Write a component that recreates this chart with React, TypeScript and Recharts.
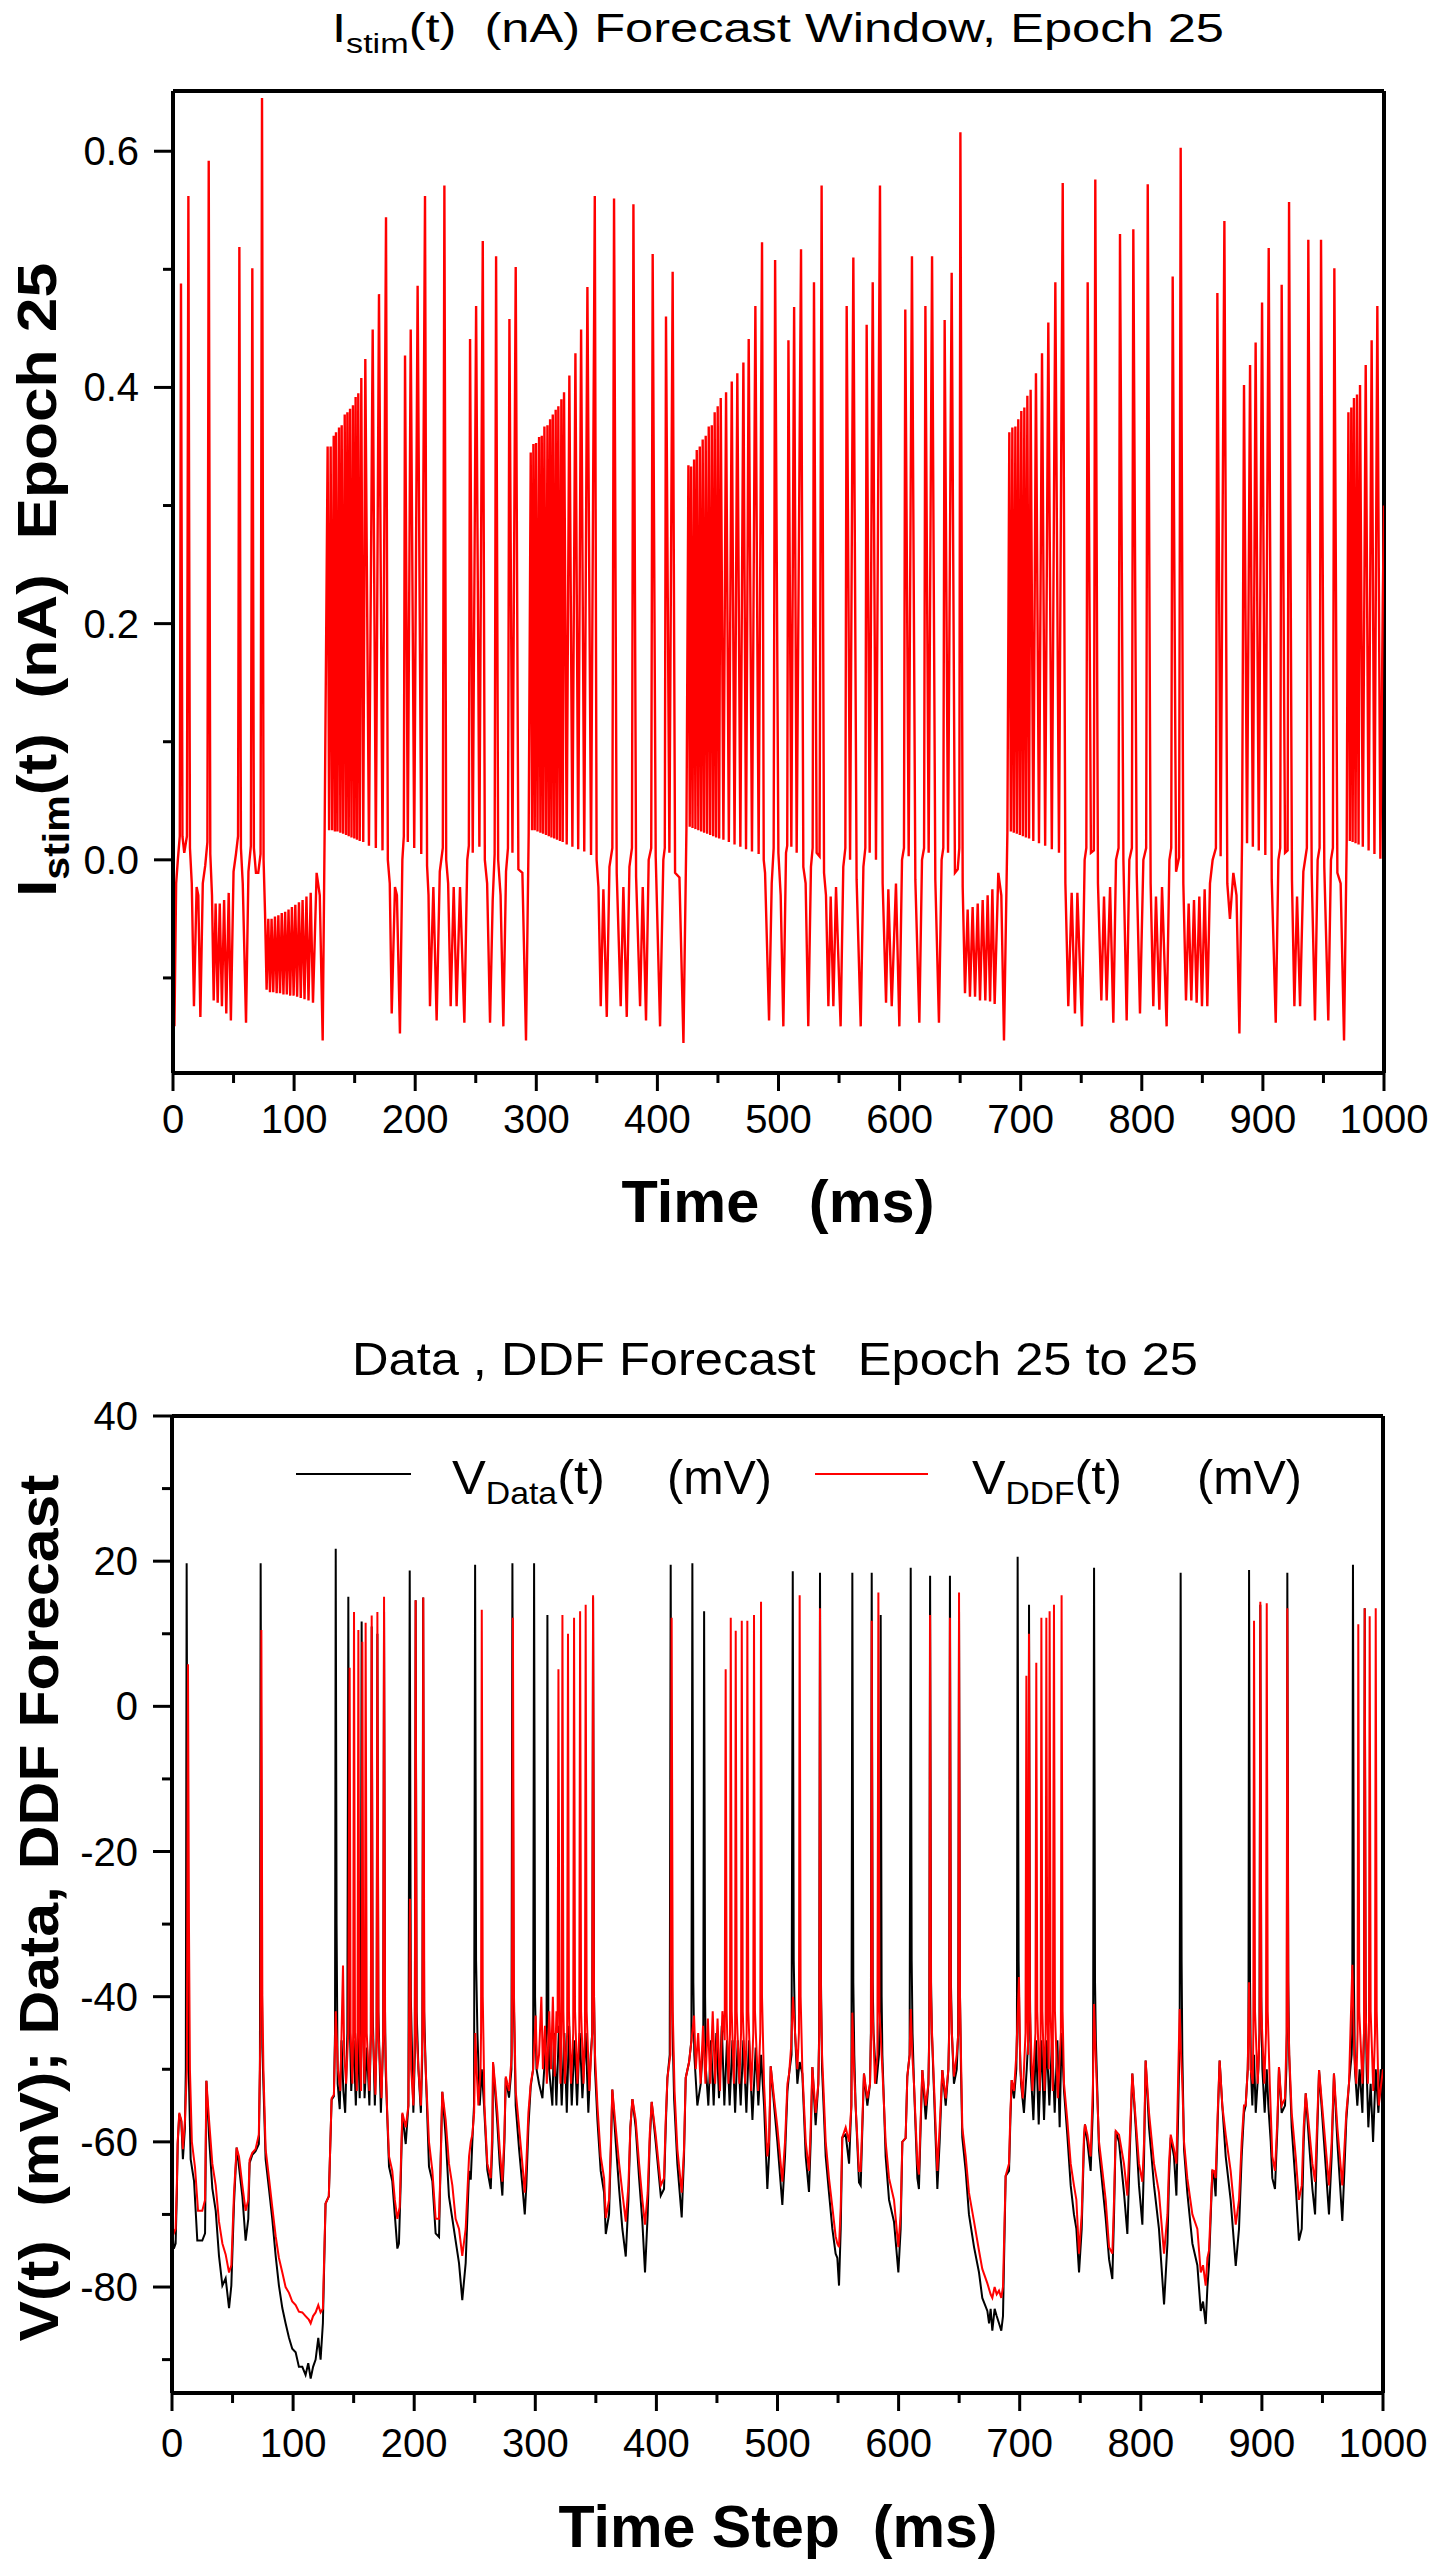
import React from "react";
import { LineChart, Line, XAxis, YAxis, ReferenceLine } from "recharts";

// I_stim(t) trace, [time ms, current nA]
const istimPoints: [number, number][] = [
  [0, -0.02], [1.2, -0.141], [2.6, -0.02], [4, 0.0], [5.6, 0.02], [6.6, 0.488], [7.8, 0.02], [9.3, 0.006], [11.5, 0.02], [12.7, 0.562],
  [14, 0.01], [15.5, -0.02], [17.3, -0.124], [19.5, -0.023], [20.9, -0.03], [22.6, -0.133], [24.6, -0.02], [26.6, -0.005], [28.4, 0.015], [29.5, 0.592],
  [30.8, 0.005], [32.2, -0.03], [33.6, -0.119], [35.2, -0.037], [36.9, -0.121], [38.6, -0.037], [40.4, -0.124], [42.2, -0.034], [44, -0.13], [46, -0.028],
  [47.8, -0.136], [50, -0.01], [52, 0.005], [53.7, 0.02], [54.8, 0.519], [56.1, 0.01], [57.6, -0.02], [60.3, -0.138], [62.3, -0.01], [64.3, 0.012],
  [65.5, 0.501], [66.8, 0.01], [68.5, -0.011], [70.4, -0.011], [72.3, 0.005], [73.5, 0.645], [74.8, 0.0], [76, -0.045], [77.3, -0.11], [78.7, -0.05],
  [80.1, -0.112], [81.4, -0.05], [82.8, -0.112], [84.2, -0.048], [85.6, -0.113], [87, -0.047], [88.4, -0.113], [89.8, -0.045], [91.2, -0.114], [92.6, -0.044],
  [94, -0.114], [95.4, -0.042], [96.8, -0.115], [98.2, -0.04], [99.6, -0.115], [101, -0.038], [102.5, -0.116], [104, -0.036], [105.5, -0.117], [107, -0.034],
  [108.6, -0.118], [110.2, -0.031], [111.9, -0.119], [113.7, -0.028], [115.6, -0.121], [118.6, -0.011], [121.2, -0.03], [123.6, -0.153], [125.2, 0.022],
  [127.7, 0.35], [128.9, 0.025], [130.2, 0.35], [131.4, 0.025], [132.7, 0.359], [133.7, 0.024], [134.6, 0.362], [135.8, 0.024], [137.1, 0.366], [138.2, 0.023],
  [139.3, 0.368], [140.5, 0.022], [141.8, 0.377], [142.9, 0.021], [144, 0.379], [145.1, 0.02], [146.2, 0.382], [147.4, 0.019], [148.6, 0.385], [149.7, 0.018],
  [150.8, 0.392], [151.9, 0.017], [153, 0.395], [154.2, 0.016], [155.5, 0.408], [157.1, 0.015], [158.8, 0.424], [161.8, 0.012], [164.9, 0.449], [167.5, 0.01],
  [170.1, 0.479], [173, 0.008], [175.9, 0.544], [177.4, 0.0], [179, -0.02], [180.6, -0.13], [183.3, -0.023], [184.9, -0.03], [187.4, -0.147], [189.4, 0.0],
  [190.6, 0.02], [191.6, 0.427], [193.9, 0.015], [196.3, 0.449], [199.2, 0.01], [202, 0.486], [205, 0.005], [208.1, 0.562], [209.8, -0.005], [211, -0.03],
  [212.2, -0.124], [215, -0.023], [217.7, -0.136], [220.3, -0.01], [222.8, 0.01], [224.1, 0.571], [225.6, 0.0], [227.2, -0.02], [229.3, -0.124], [231.8, -0.023],
  [234.2, -0.124], [237, -0.023], [240.6, -0.138], [243, 0.0], [244.3, 0.012], [245.3, 0.441], [247.5, 0.006], [250.3, 0.469], [253, 0.011], [255.8, 0.524],
  [257.5, 0.0], [259.4, -0.02], [261.8, -0.138], [264, -0.034], [265.6, 0.005], [266.8, 0.511], [268.5, 0.0], [270.5, -0.03], [272.8, -0.141], [275, -0.01],
  [276.6, 0.01], [277.8, 0.458], [280.3, 0.006], [283, 0.502], [285.2, -0.008], [288.5, -0.011], [291.5, -0.153], [293.7, 0.022],
  [295.4, 0.345], [296.5, 0.025], [297.6, 0.352], [298.7, 0.025], [299.8, 0.353], [301, 0.024], [302.3, 0.358], [303.4, 0.023], [304.5, 0.359], [305.6, 0.022],
  [306.7, 0.367], [308, 0.021], [309.2, 0.368], [310.3, 0.02], [311.4, 0.373], [312.5, 0.019], [313.6, 0.377], [314.8, 0.018], [316, 0.381], [317.1, 0.017],
  [318.2, 0.384], [319.5, 0.016], [320.7, 0.39], [321.8, 0.015], [322.9, 0.396], [325.1, 0.013], [327.3, 0.41], [329.8, 0.011], [332.3, 0.429], [334.6, 0.009],
  [337, 0.449], [339.6, 0.007], [342.2, 0.485], [345.2, 0.004], [348.3, 0.562], [349.8, 0.0], [351.3, -0.023], [353.2, -0.124], [355.4, -0.025], [358.2, -0.133],
  [360.4, -0.006], [362.8, 0.01], [364.2, 0.56], [366.4, -0.011], [369.7, -0.124], [371.9, -0.023], [374.7, -0.133], [376.9, -0.006], [379, 0.01], [380.2, 0.555],
  [382.4, -0.014], [385.7, -0.124], [387.9, -0.023], [390.6, -0.136], [392.8, 0.0], [394.9, 0.01], [396.1, 0.513], [398.6, 0.003], [402.2, -0.141], [404.9, 0.0],
  [406.1, 0.01], [407.1, 0.46], [409.9, 0.006], [412.6, 0.498], [414.6, -0.011], [418.2, -0.015], [421.5, -0.155], [424, 0.028],
  [425.6, 0.334], [426.7, 0.028], [427.8, 0.333], [429, 0.027], [430.3, 0.339], [431.4, 0.026], [432.5, 0.347], [433.8, 0.025], [435, 0.35], [436.2, 0.024],
  [437.4, 0.356], [438.6, 0.023], [439.9, 0.359], [441.1, 0.022], [442.4, 0.367], [443.6, 0.021], [444.9, 0.368], [446.1, 0.02], [447.3, 0.379], [448.5, 0.019],
  [449.8, 0.384], [451, 0.018], [452.3, 0.391], [454.5, 0.017], [456.7, 0.396], [459, 0.015], [461.4, 0.405], [463.7, 0.013], [466, 0.412], [468.5, 0.011],
  [471, 0.421], [473.2, 0.009], [475.4, 0.441], [478.1, 0.007], [480.9, 0.469], [483.6, 0.005], [486.4, 0.523], [487.8, 0.0], [488.9, -0.011], [492.2, -0.136],
  [494.4, -0.02], [496, 0.01], [497.2, 0.508], [499.9, 0.006], [501.8, -0.03], [504, -0.141], [506.2, 0.006], [507.2, 0.012], [508.2, 0.44], [510.6, 0.011],
  [512.9, 0.468], [515, 0.006], [518.6, 0.517], [520.5, -0.006], [522.4, -0.02], [524.6, -0.141], [526.8, -0.006], [528.2, 0.01], [529.3, 0.489], [531.5, 0.006],
  [533.9, 0.003], [535.6, 0.571], [537.6, -0.011], [539.2, -0.03], [541.2, -0.124], [543.1, -0.031], [545.3, -0.124], [547.5, -0.023], [551.3, -0.141], [553.5, -0.006],
  [555.2, 0.01], [556.3, 0.469], [559.1, 0.0], [561.8, 0.51], [564.5, -0.017], [567.9, -0.141], [570.1, -0.006], [571.7, 0.01], [572.8, 0.453], [575.3, 0.006],
  [577.8, 0.489], [580.5, 0.0], [583.8, 0.571], [586, -0.02], [588.8, -0.121], [590.7, -0.025], [593.5, -0.124], [597, -0.02], [599.8, -0.141], [602, 0.0],
  [603.6, 0.01], [604.7, 0.466], [607.5, 0.003], [610.2, 0.511], [613, -0.017], [616.3, -0.138], [618.5, 0.0], [620.2, 0.01], [621.3, 0.469], [624, 0.006],
  [626.8, 0.511], [629.5, -0.017], [632.5, -0.138], [634.7, 0.0], [636.1, 0.01], [637.2, 0.457], [640, 0.006], [643, 0.497], [645.7, -0.011], [648, -0.008],
  [649.3, 0.01], [650.2, 0.616], [652.1, -0.023], [654, -0.113], [656.2, -0.042], [658.1, -0.116], [660.3, -0.04], [662.3, -0.116], [664.5, -0.037], [666.4, -0.119],
  [668.6, -0.034], [670.8, -0.119], [672.7, -0.03], [674.7, -0.12], [676.6, -0.025], [678.5, -0.122], [681.5, -0.011], [684, -0.03], [686.2, -0.153], [689, 0.023],
  [690.6, 0.362], [691.9, 0.024], [693.1, 0.366], [694.3, 0.023], [695.6, 0.367], [696.8, 0.022], [698, 0.373], [699.3, 0.021], [700.5, 0.38], [701.8, 0.02],
  [703, 0.383], [704.3, 0.019], [705.5, 0.393], [706.9, 0.018], [708.2, 0.398], [710.4, 0.016], [712.6, 0.412], [715.1, 0.014], [717.6, 0.429], [720.2, 0.012],
  [722.8, 0.455], [725.7, 0.009], [728.6, 0.489], [731.6, 0.006], [734.7, 0.573], [736.9, -0.02], [739.3, -0.124], [742.1, -0.028], [744.8, -0.13], [746.8, -0.028],
  [750.6, -0.141], [752.8, 0.0], [754.2, 0.01], [755.3, 0.489], [758, 0.006], [760.4, 0.008], [761.6, 0.576], [763.8, -0.02], [766.6, -0.119], [768.8, -0.031],
  [771, -0.119], [773.8, -0.023], [776.5, -0.138], [778.7, 0.0], [780.8, 0.01], [782, 0.53], [784.8, 0.0], [787.5, -0.136], [789.7, 0.0], [791.8, 0.01],
  [793, 0.534], [795.8, -0.011], [798.5, -0.13], [801.3, 0.0], [803.6, 0.01], [804.9, 0.572], [807.3, -0.02], [809.5, -0.124], [811.7, -0.031], [814.5, -0.127],
  [816.7, -0.023], [820.5, -0.141], [822.8, 0.0], [824.3, 0.01], [825.5, 0.494], [828.3, -0.01], [830.8, 0.002], [832.1, 0.603], [834.3, -0.02], [836.5, -0.119],
  [838.7, -0.037], [840.9, -0.119], [843.1, -0.034], [845.3, -0.121], [847.5, -0.031], [849.7, -0.124], [851.9, -0.025], [854.1, -0.124], [856.3, -0.02], [858.5, 0.0],
  [861.2, 0.01], [862.4, 0.48], [865.1, 0.003], [868.2, 0.541], [870.6, -0.02], [872.8, -0.05], [875.6, -0.011], [878.2, -0.03], [880.6, -0.147], [882.8, 0.017],
  [884.4, 0.402], [886.9, 0.014], [889.4, 0.419], [891.7, 0.011], [894, 0.438], [896.6, 0.008], [899.3, 0.472], [902, 0.004], [904.8, 0.518], [907.3, -0.017],
  [910.6, -0.138], [912.8, 0.0], [914.3, 0.01], [915.5, 0.487], [918.3, 0.006], [920.4, 0.008], [921.6, 0.557], [924, -0.017], [926, -0.124], [928.2, -0.031],
  [930.7, -0.124], [933.4, -0.01], [936.3, 0.01], [937.5, 0.525], [940.3, -0.011], [943, -0.136], [945.2, 0.0], [946.8, 0.01], [948, 0.525], [950.7, -0.006],
  [954, -0.136], [956.2, 0.0], [957.8, 0.01], [959, 0.501], [961.5, -0.011], [964.2, -0.02], [967, -0.153], [969.2, 0.017],
  [970.6, 0.379], [971.8, 0.016], [973, 0.383], [974.1, 0.015], [975.2, 0.391], [976.5, 0.014], [977.7, 0.394], [979, 0.013], [980.2, 0.402], [982.5, 0.011],
  [984.9, 0.419], [987.3, 0.008], [989.8, 0.44], [992.1, 0.005], [994.5, 0.469], [997, 0.001], [999, 0.22], [1000, 0.3],
];

// V_Data(t), [time ms, mV], black trace of the lower panel
const vDataPoints: [number, number][] = [
  [0, -72], [1.5, -74.7], [3, -74], [4, -67], [4.7, -60.3], [6, -56.2], [7.7, -57.2], [9, -62.4], [10.7, -58], [11.4, -50],
  [12.1, 19.7], [12.9, -30], [13.8, -50], [15.4, -62.4], [18.2, -65.4], [20.9, -73.6], [25, -73.6], [27.3, -72.6], [28.4, -51.6], [30.6, -59.3],
  [33.3, -66.4], [36.1, -69.5], [38.8, -75.7], [41.6, -79.8], [44.3, -78.8], [47.1, -82.9], [49, -79.8], [51.2, -68.5], [53.4, -60.8], [55.3, -63.4],
  [58.1, -67.5], [60.8, -73.6], [63, -70.6], [64.1, -62.9], [66.3, -61.8], [69, -61.3], [71.7, -60.3], [72.6, -50], [73.2, 19.7], [74, -30],
  [74.6, -47], [77.3, -62.4], [80.1, -66.5], [82.8, -70.6], [85.6, -75.7], [88.3, -79.8], [91.1, -82.9], [93.8, -85], [96.6, -87], [99.3, -88.5],
  [102.1, -89], [104.8, -91], [107.6, -91], [110.3, -92.1], [112.5, -90.5], [114.5, -92.6], [116.5, -91], [118.6, -90], [120.8, -87], [122.7, -90],
  [124.6, -85], [126.8, -68.5], [129.5, -67.5], [131.8, -54.2], [133.7, -53.7], [134.6, -45], [135.2, 21.7], [135.9, -30], [136.8, -52], [138.5, -55.5],
  [140, -46], [141.5, -53], [143, -56], [144.8, -45], [145.6, 15.1], [146.4, -40], [148, -53], [150, -46], [151.8, -55], [153.5, -45],
  [155, -54], [155.9, -45], [156.6, 11.7], [157.4, -40], [159, -54], [161, -47], [163, -55], [164.2, -45], [164.9, 11], [165.7, -42],
  [167.5, -55], [169, -46], [169.6, 10], [170.4, -42], [172.5, -56], [174.4, -46], [175.1, 13], [175.9, -42], [176.4, -50], [179.2, -63.4],
  [181.9, -65.4], [186.1, -74.7], [187.4, -74], [188.8, -66], [190.2, -56.2], [193, -60.3], [195.2, -55], [196.3, 18.7], [197.2, -40], [198.5, -50],
  [199.3, -56], [200.5, -48], [201.2, 14.6], [202, -42], [203.5, -50], [205.5, -56], [206.7, -48], [207.4, 15], [208.2, -42], [209.5, -50],
  [212.2, -63.4], [215, -65.4], [217.7, -72.6], [220.5, -73.1], [221.9, -62], [223.2, -53.1], [226, -59.3], [228.7, -67.5], [231.5, -70.6], [234.2, -73.6],
  [237, -76.7], [239.7, -81.8], [242.5, -76.7], [245.3, -64], [246.7, -65.2], [248, -60], [249.4, -55], [250.3, 19.5], [251.1, -35], [252.2, -45],
  [254.1, -55], [255.8, -50], [257.7, -55], [260.4, -63.9], [263.2, -66.5], [264.6, -60], [265.1, -49.2], [266.8, -53], [268.7, -57.6], [270.6, -63],
  [272.8, -67.4], [274.5, -60], [275.6, -51.2], [278.3, -53.9], [280.3, -50], [281.1, 19.7], [282, -38], [283.8, -55], [286.6, -61], [289.3, -66],
  [291.3, -70], [292.6, -66], [294.3, -58], [296.2, -52.4], [298.2, -50], [299, 19.7], [299.8, -40], [301, -50], [303.1, -52], [305.9, -54],
  [308.1, -48], [309.3, -45], [310, 12.6], [310.8, -42], [311.4, -50], [314.1, -55], [315.5, -45], [317.4, -55], [319.6, -44], [321.8, -55],
  [324, -45], [326, -56], [327.9, -44], [330.1, -55], [332.3, -46], [334.5, -55], [336.7, -45], [338.9, -54], [341.6, -45], [343.8, -56],
  [345.8, -48], [347, -45], [347.7, 15], [348.5, -40], [349.3, -50], [351.3, -57], [354, -64], [356.8, -67], [358.2, -72.7], [360.9, -70],
  [362.6, -60], [363.6, -52.8], [366.4, -60], [369.2, -66.5], [371.9, -72], [374.7, -75.8], [376.9, -68], [378.5, -58], [380.2, -54.1], [382.9, -58],
  [385.7, -65], [388.4, -71], [390.6, -78], [392.8, -70], [394.5, -60], [396.1, -54.5], [399.4, -60], [403.6, -67.4], [406.3, -66.5], [407.7, -58],
  [409.1, -51.2], [411, -48], [411.8, 19.5], [412.6, -35], [413.4, -45], [414.6, -54], [417.3, -63], [420.9, -70.4], [422.8, -62], [424.2, -51.2],
  [427, -49], [428.9, -46], [429.7, 19.7], [430.5, -38], [431.3, -48], [433.8, -55], [436.6, -52], [438.7, -46], [439.4, 13.1], [440.2, -40],
  [440.9, -50], [442.9, -55], [445.1, -46], [447.3, -55], [449.5, -45], [451.7, -54], [454, -44], [456.1, -55], [458.3, -46], [460.5, -55],
  [462.8, -46], [465, -56], [467.2, -46], [469.6, -55], [471.8, -46], [474.3, -56], [476.5, -46], [479.3, -57], [482, -47], [484.2, -55],
  [486.4, -48], [488.9, -55], [491.6, -66.5], [493, -62], [494.4, -49.6], [497.2, -55], [499.9, -60], [504, -68.7], [506.2, -62], [508.2, -53],
  [509.6, -50.6], [511.6, -48], [512.6, 18.6], [513.4, -35], [514.5, -45], [516.4, -52], [518.3, -49], [520.5, -50.6], [523.3, -62], [526, -66.9],
  [527.4, -60], [528.8, -49.7], [531.5, -57.7], [533.7, -52], [534.4, -45], [535.1, 18.4], [535.9, -38], [536.8, -50], [539.8, -62], [542.5, -67],
  [545.3, -72], [548, -75.4], [549.4, -76], [550.8, -79.8], [552.2, -72], [553.5, -59.4], [556.3, -59], [559.1, -63], [561, -55], [561.8, 18.4],
  [562.6, -38], [563.4, -48], [564.5, -55], [567.3, -65.6], [568.7, -66], [570.1, -58], [571.4, -50.6], [574.2, -55], [576.4, -52], [577.1, -45],
  [577.8, 18.4], [578.6, -38], [579.3, -45], [581.6, -52], [583.8, -48], [584.5, -42], [585.2, 12.6], [586, -40], [586.6, -48], [589.3, -62],
  [592.1, -68], [596.2, -71], [599.8, -78], [601.7, -72], [603.1, -60], [605.8, -59.5], [607.2, -51], [609.1, -48], [610, 19.1], [610.8, -35],
  [611.5, -45], [612.7, -52], [615.5, -65], [616.8, -66.5], [618.2, -58], [619.6, -50.1], [622.4, -56.9], [624.6, -52], [625.3, -45], [626, 18],
  [626.8, -38], [627.5, -45], [629.2, -53], [632, -66.5], [633.9, -60], [636.1, -50.1], [638.9, -55], [641.1, -50], [641.7, -45], [642.4, 18],
  [643.2, -38], [644, -45], [645.7, -52], [648, -50], [649.2, -45], [649.9, 13], [650.7, -40], [651.5, -50], [652.6, -59.4], [655.4, -64],
  [658.1, -70], [662.3, -74.5], [666.4, -78], [669.1, -81.5], [673.3, -83.3], [674.7, -85], [676, -83], [677.4, -86], [679.3, -83], [681, -84],
  [682.9, -85], [684.8, -86], [686.2, -84], [688.4, -64.7], [691.2, -64], [692.3, -57], [693.4, -51.5], [695.3, -54], [697.2, -50], [697.7, -45],
  [698.3, 20.6], [699.1, -35], [699.8, -45], [701.1, -52], [703.5, -56], [705.8, -50], [707, -46], [707.7, 14], [708.5, -40], [709.1, -50],
  [711.3, -57], [713.5, -46], [715.7, -57.6], [717.9, -46], [720.1, -57], [722.3, -46], [724.5, -55], [726.7, -46], [728.9, -56], [731.1, -46],
  [733, -58], [734.6, -45], [736.6, -53], [739.3, -59], [742.1, -66], [744.8, -70], [746.8, -72], [749, -78], [751.2, -72], [753.1, -60],
  [753.9, -57.6], [755.9, -60], [758.6, -64], [760.5, -55], [761.4, 19.1], [762.2, -38], [762.9, -46], [765.5, -61.2], [768.3, -66], [771, -70.5],
  [773.8, -76.2], [776.5, -78.9], [777.9, -70], [779.3, -58.5], [782, -60], [786.1, -67], [788.9, -72.7], [790.8, -62], [793, -50.6], [795.8, -58],
  [798.5, -66], [801.3, -71.4], [802.7, -62], [804, -48.8], [806.8, -58], [810.9, -66], [815, -72], [819.2, -82.4], [822, -74], [823.3, -65],
  [824.7, -59.4], [827.4, -62], [829.4, -67.4], [831, -55], [832.1, -45], [832.9, 18.4], [833.7, -35], [834.3, -48], [835.7, -61], [838.4, -67],
  [842.6, -74], [846.7, -77], [849.5, -83.3], [851.4, -82], [853.6, -85.1], [855, -80], [856.3, -77], [859.1, -63.9], [860.5, -65], [861.8, -67.5],
  [863.5, -57], [865.1, -48.8], [867.3, -55], [870.1, -62], [874.2, -68], [878.4, -77.1], [881.1, -72], [883.3, -62], [885.2, -56], [886.6, -55],
  [888.3, -50], [888.9, -45], [889.4, 18.8], [890.2, -38], [890.9, -50], [892.1, -55], [893.5, -48], [894.9, -56], [897.1, -50], [898, -45],
  [898.7, 14], [899.5, -40], [900.4, -50], [902.3, -56], [904, -50], [905.3, -55], [907.3, -60], [908.6, -65], [910.8, -66.5], [912.8, -58],
  [914.1, -49.7], [916.3, -56], [919.1, -55], [920.2, -50], [920.6, -45], [921, 18.4], [921.8, -38], [922.5, -48], [924.6, -58], [927.9, -66],
  [930.6, -73.6], [932.9, -72], [934.5, -60], [936.2, -53.3], [938.9, -60], [941.7, -66.5], [943.9, -70], [945.5, -60], [947.2, -50.1], [951.3, -60],
  [955.4, -70], [957.6, -62], [959.5, -50.6], [962.3, -60], [966.4, -70.9], [968.1, -64], [969.7, -57], [971.9, -52], [974.1, -48], [974.6, -45],
  [975.2, 19.5], [976, -38], [976.8, -50], [978.8, -55], [980.7, -50], [983, -56], [984.3, -45], [984.9, 13.5], [985.7, -40], [986.5, -50],
  [987.9, -58], [989.8, -52], [991.8, -60], [994, -50], [996.2, -56], [998.1, -50], [1000, -52],
];

// V_DDF(t), [time ms, mV], red forecast trace of the lower panel
const vDdfPoints: [number, number][] = [
  [0, -71], [1.5, -72.6], [3, -72], [4, -66], [4.7, -60], [6, -56], [7.7, -57], [9, -61], [10.7, -57], [12.3, -50],
  [13.2, 5.8], [14, -30], [14.8, -50], [16.4, -60], [19, -63.5], [21.5, -69.5], [25, -69.5], [27.3, -68], [28.4, -51.6], [30.6, -57],
  [33.3, -63], [36.1, -66], [38.8, -71], [41.6, -74], [44.3, -75.5], [47.1, -78], [49, -77], [51.2, -67], [53.4, -60.8], [55.3, -62],
  [58.1, -66], [60.8, -69.5], [63, -68], [64.1, -62.5], [66.3, -61.5], [69, -61], [71.7, -59], [73, -45], [73.8, 10.5], [74.6, -40],
  [75.5, -50], [77.3, -61], [80.1, -65], [82.8, -69], [85.6, -73], [88.3, -76], [91.1, -78], [93.8, -80], [96.6, -80.8], [99.3, -82],
  [102.1, -82.5], [104.8, -83.4], [107.6, -83.5], [110.3, -84], [113, -84.5], [114.5, -85], [116.5, -84], [118.6, -83.5], [120.8, -82.5], [122.7, -83.5],
  [124.6, -83], [126.8, -68.5], [129.5, -67.5], [131.8, -54], [133.7, -53.5], [135.2, -42], [137, -50], [139, -53], [141.2, -35.7], [142.2, -48],
  [143.8, -52], [145.5, -45], [146.7, 5.3], [147.5, -45], [149, -52], [149.6, -45], [150.3, 13], [151.1, -45], [152.6, -53], [153.2, -45],
  [153.9, 10.5], [154.7, -45], [156.1, -53], [156.5, -45], [157.2, 8.9], [158, -45], [159, -52], [159.3, -45], [159.9, 11.5], [160.8, -45],
  [163, -53], [164.2, -45], [164.9, 12.5], [165.8, -45], [168, -53.5], [168.9, -45], [169.6, 13], [170.5, -45], [173, -54], [174.4, -45],
  [175.1, 15.1], [176, -45], [177.5, -55], [179.2, -62], [181.9, -64], [184, -68], [186.1, -70.6], [188, -69], [190.2, -56], [193, -58],
  [195.2, -55], [196.5, -26.5], [197.5, -50], [199.3, -55], [200.5, -45], [201.2, 14.6], [202, -45], [203.5, -50], [205.5, -55], [206.8, -45],
  [207.5, 15], [208.4, -45], [210, -52], [212.2, -60], [215, -64], [217.7, -70.6], [220.5, -70.6], [222, -62], [223.2, -53.1], [226, -57],
  [228.7, -63], [231.5, -66], [234.2, -70.6], [237, -72], [239.7, -75.7], [242.5, -72], [245.3, -62], [246.7, -60], [248, -59], [249.5, -56],
  [250.5, -45], [251.5, -50], [253, -55], [254.8, -50], [255.2, -45], [255.8, 13.3], [256.6, -40], [257.4, -48], [258, -55], [260.4, -63],
  [263.2, -65], [264.6, -58], [265.1, -49], [266.8, -52], [268.7, -56], [270.6, -61], [272.8, -65.5], [274.5, -59], [275.6, -51], [278.3, -53],
  [280.6, -48], [281.5, 12.2], [282.4, -40], [283.8, -53], [286.6, -58], [289.3, -63], [291.3, -67], [292.6, -63], [294.3, -56], [296.2, -52],
  [298.2, -50], [300.3, -42.6], [301.5, -50], [303.1, -48], [305, -40], [306.3, -50], [308, -44], [309.5, -52], [311.5, -42], [313, -50],
  [314.5, -40], [316, -51], [317.5, -42], [318.4, -45], [319.1, 5.1], [319.9, -40], [320.8, -52], [321.7, -45], [322.4, 12.6], [323.2, -42],
  [324.5, -52], [326.3, -45], [327, 10], [327.8, -42], [329.5, -52], [331.3, -45], [332, 12.2], [332.8, -42], [334.8, -52], [336.3, -45],
  [337, 13.1], [337.8, -42], [339.8, -52], [341, -45], [341.6, 14], [342.4, -42], [344.6, -53], [347, -45], [347.7, 15.3], [348.5, -40],
  [349.3, -48], [351.3, -55], [354, -62], [356.8, -65], [358.2, -70.5], [360.9, -68], [362.6, -59], [363.6, -52.8], [366.4, -58], [369.2, -63],
  [371.9, -67], [374.7, -71], [376.9, -66], [378.5, -58], [380.2, -54.1], [382.9, -57], [385.7, -63], [388.4, -68], [390.6, -71.4], [392.8, -67],
  [394.5, -59], [396.1, -54.5], [399.4, -59], [403.6, -66], [406.3, -65], [407.7, -57], [409.1, -51.2], [411.5, -48], [412.6, 12.2], [413.5, -42],
  [415, -53], [417.3, -61], [420.9, -67], [422.8, -61], [424.2, -51.2], [427, -49], [429, -46], [431.1, -42.6], [432.5, -50], [434.5, -45],
  [436.5, -52], [438.5, -44], [440.5, -52], [442.5, -43], [444.5, -52], [446.5, -42], [448.5, -52], [450.5, -43], [452.5, -53], [454.5, -42],
  [456.4, -46], [457.2, 5.1], [458, -42], [459.5, -52], [460.8, -45], [461.4, 12.2], [462.2, -42], [464, -52], [465, -45], [465.5, 10.4],
  [466.3, -42], [468.5, -52], [469.9, -45], [470.5, 11.8], [471.3, -42], [473.3, -52], [474.5, -45], [475.1, 11.8], [475.9, -42], [478.3, -53],
  [480, -45], [480.6, 12.6], [481.4, -42], [484, -53], [485.8, -45], [486.4, 14.4], [487.2, -40], [488.9, -52], [491.6, -62], [493, -60],
  [494.4, -49.6], [497.2, -54], [499.9, -58], [504, -65.5], [506.2, -60], [508.2, -52], [509.6, -50.6], [511.2, -47], [512.8, -40], [514.5, -45],
  [516.4, -50], [517.7, -45], [518.3, 15.3], [519.1, -40], [520.5, -50], [523.3, -60], [526, -64], [527.4, -58], [528.8, -49.7], [531.5, -56],
  [533.7, -52], [534.5, -45], [535.1, 13.5], [535.9, -40], [536.8, -48], [539.8, -60], [542.5, -65], [545.3, -69], [548, -73], [549.4, -74],
  [550.8, -74.5], [552.2, -69], [553.5, -59.4], [556.3, -58], [559.1, -60], [561, -55], [561.8, -42.2], [563.2, -50], [564.5, -55], [567.3, -64],
  [568.7, -64], [570.1, -57], [571.4, -50.6], [574.2, -54], [576.4, -52], [577.2, -45], [577.8, 11.8], [578.6, -42], [580.5, -52], [582.5, -48],
  [583.3, 15.7], [584.2, -42], [586.6, -50], [589.3, -60], [592.1, -65], [596.2, -68], [599.8, -74.5], [601.7, -70], [603.1, -60], [605.8, -59.5],
  [607.2, -51], [609.1, -48], [610, -41.7], [611.3, -48], [612.7, -52], [615.5, -63], [616.8, -64.5], [618.2, -57], [619.6, -50.1], [622.4, -55],
  [624.6, -52], [625.4, -45], [626, 12.6], [626.8, -40], [627.6, -45], [629.2, -52], [632, -64], [633.9, -58], [636.1, -50.1], [638.9, -54],
  [641.1, -50], [641.8, -45], [642.4, 12.2], [643.2, -40], [644, -45], [645.7, -51], [648, -48], [649.3, -45], [649.9, 15.7], [650.7, -40],
  [651.5, -48], [652.6, -58], [655.4, -62], [658.1, -67], [662.3, -71], [666.4, -75], [669.1, -77.5], [673.3, -79.5], [676, -81], [677.4, -81.5],
  [679.3, -80], [681, -81], [682.9, -80.5], [684.8, -81.5], [686.2, -80], [688.4, -64.7], [691.2, -63], [692.3, -56], [693.4, -51.5], [695.3, -53],
  [697.2, -48], [699.4, -37.3], [700.5, -50], [702.5, -54], [704.8, -45], [705.5, 4.2], [706.3, -42], [707, -48], [707.7, 10], [708.5, -42],
  [710.5, -53], [713, -45], [713.7, 6], [714.5, -42], [716.5, -53], [717.3, -45], [717.9, 12.2], [718.7, -42], [720.5, -53], [721.4, -45],
  [722, 12.2], [722.8, -42], [724, -50], [724.7, 13.1], [725.5, -42], [727.3, -53], [728.3, 14], [729.1, -42], [731.5, -54], [734, -45],
  [734.6, 15.3], [735.4, -42], [736.6, -52], [739.3, -57], [742.1, -63], [744.8, -66], [746.8, -68], [749, -75.4], [751.2, -70], [753.1, -59],
  [753.9, -57.6], [755.9, -59], [758.6, -62], [760.5, -52], [761.4, -41], [762.7, -48], [765.5, -60], [768.3, -64], [771, -68], [773.8, -74.5],
  [776.5, -75.4], [777.9, -68], [779.3, -58.5], [782, -59], [786.1, -63], [788.9, -67.4], [790.8, -60], [793, -50.6], [795.8, -57], [798.5, -63],
  [801.3, -65.5], [802.7, -60], [804, -48.8], [806.8, -56], [810.9, -63], [815, -67], [819.2, -75.4], [822, -70], [823.3, -63], [824.7, -59],
  [827.4, -61], [829.4, -63], [831, -50], [832.1, -41.7], [833, -47], [834.3, -52], [835.7, -60], [838.4, -65], [842.6, -70], [846.7, -72],
  [849.5, -78], [851.4, -77], [853.6, -79.8], [855, -76], [856.3, -75], [859.1, -63.9], [860.5, -64], [861.8, -65], [863.5, -56], [865.1, -48.8],
  [867.3, -55], [870.1, -59], [874.2, -64], [878.4, -71.4], [881.1, -68], [883.3, -60], [885.2, -55], [886.6, -55], [888.3, -50], [889.4, -38],
  [890.7, -50], [892.5, -52], [892.9, -45], [893.5, 11.8], [894.3, -42], [896.5, -52], [898.1, -45], [898.7, 14.4], [899.5, -42], [902, -52],
  [903.4, -45], [904, 14.2], [904.8, -42], [906.5, -52], [908.6, -62], [910.8, -64], [912.8, -57], [914.1, -49.7], [916.3, -55], [919.1, -54],
  [920.4, -45], [921, 13.5], [921.8, -42], [922.6, -48], [924.6, -56], [927.9, -62], [930.6, -68], [932.9, -66], [934.5, -58], [936.2, -53.3],
  [938.9, -58], [941.7, -63], [943.9, -65.5], [945.5, -58], [947.2, -50.1], [951.3, -58], [955.4, -66], [957.6, -60], [959.5, -50.6], [962.3, -58],
  [966.4, -66], [968.1, -61], [969.7, -56], [971.9, -52], [974.7, -35.6], [976.2, -48], [978, -52], [979, -45], [979.6, 11.3], [980.4, -42],
  [983, -52], [984.3, -45], [984.9, 13.5], [985.7, -42], [987.5, -52], [988.4, -45], [989, 12.4], [989.8, -42], [992, -53], [993.4, -45],
  [994, 13.5], [994.8, -42], [996.5, -55], [998.5, -52], [1000, -50],
];

const timeTicks = [0, 50, 100, 150, 200, 250, 300, 350, 400, 450, 500, 550, 600, 650, 700, 750, 800, 850, 900, 950, 1000];
const istimTicks = [-0.1, 0, 0.1, 0.2, 0.3, 0.4, 0.5, 0.6];
const voltTicks = [-90, -80, -70, -60, -50, -40, -30, -20, -10, 0, 10, 20, 30, 40];
const istimDomain: [number, number] = [-0.1805, 0.651];
const voltDomain: [number, number] = [-94.6, 40];

const FONT = "'Liberation Sans', Arial, Helvetica, sans-serif";

const istimData = istimPoints.map(([t, v]) => ({ t, v }));
const vDataData = vDataPoints.map(([t, v]) => ({ t, v }));
const vDdfData = vDdfPoints.map(([t, v]) => ({ t, v }));

function makeXTick(labelOffset: number) {
  return function XTick(props: any) {
    const { x, y, payload } = props;
    const v = payload.value as number;
    const major = v % 100 === 0;
    return (
      <g>
        <line x1={x} x2={x} y1={y} y2={y + (major ? 18 : 10)} stroke="#000" strokeWidth={3} />
        {major && (
          <text x={x} y={y + labelOffset} textAnchor="middle" fontSize={40} fontFamily={FONT} fill="#000">
            {v}
          </text>
        )}
      </g>
    );
  };
}

function makeYTick(isMajor: (v: number) => boolean, fmt: (v: number) => string) {
  return function YTick(props: any) {
    const { x, y, payload } = props;
    const v = payload.value as number;
    const major = isMajor(v);
    return (
      <g>
        <line x1={x - (major ? 19 : 10)} x2={x} y1={y} y2={y} stroke="#000" strokeWidth={3} />
        {major && (
          <text x={x - 34} y={y + 14} textAnchor="end" fontSize={40} fontFamily={FONT} fill="#000">
            {fmt(v)}
          </text>
        )}
      </g>
    );
  };
}

const TopXTick = makeXTick(60);
const BottomXTick = makeXTick(64);
const IstimTick = makeYTick(
  (v) => Math.round(v * 10) % 2 === 0,
  (v) => v.toFixed(1)
);
const VoltTick = makeYTick(
  (v) => v % 20 === 0,
  (v) => String(v)
);

const frame = { stroke: "#000", strokeWidth: 4 };

export default function App() {
  return (
    <div style={{ position: "absolute", left: 0, top: 0, width: 1434, height: 2560, background: "#fff", fontFamily: FONT }}>
      <div style={{ position: "absolute", left: 0, top: 0 }}>
        <LineChart width={1434} height={1300} margin={{ top: 91, right: 50, left: 0, bottom: 127 }}>
          <XAxis
            type="number"
            dataKey="t"
            domain={[0, 1000]}
            ticks={timeTicks}
            interval={0}
            tickSize={0}
            tickMargin={0}
            tickLine={false}
            axisLine={frame}
            tick={<TopXTick />}
            height={100}
            allowDataOverflow
          />
          <YAxis
            type="number"
            domain={istimDomain}
            ticks={istimTicks}
            interval={0}
            tickSize={0}
            tickMargin={0}
            tickLine={false}
            axisLine={frame}
            tick={<IstimTick />}
            width={173}
            allowDataOverflow
          />
          <ReferenceLine y={istimDomain[1]} stroke="#000" strokeWidth={4} ifOverflow="visible" />
          <ReferenceLine x={1000} stroke="#000" strokeWidth={4} ifOverflow="visible" />
          <Line data={istimData} dataKey="v" type="linear" stroke="#ff0000" strokeWidth={2.4} dot={false} activeDot={false} isAnimationActive={false} />
        </LineChart>
      </div>

      <div style={{ position: "absolute", left: 0, top: 1300 }}>
        <LineChart width={1434} height={1260} margin={{ top: 116, right: 51, left: 0, bottom: 67 }}>
          <XAxis
            type="number"
            dataKey="t"
            domain={[0, 1000]}
            ticks={timeTicks}
            interval={0}
            tickSize={0}
            tickMargin={0}
            tickLine={false}
            axisLine={frame}
            tick={<BottomXTick />}
            height={100}
            allowDataOverflow
          />
          <YAxis
            type="number"
            domain={voltDomain}
            ticks={voltTicks}
            interval={0}
            tickSize={0}
            tickMargin={0}
            tickLine={false}
            axisLine={frame}
            tick={<VoltTick />}
            width={172}
            allowDataOverflow
          />
          <ReferenceLine y={voltDomain[1]} stroke="#000" strokeWidth={4} ifOverflow="visible" />
          <ReferenceLine x={1000} stroke="#000" strokeWidth={4} ifOverflow="visible" />
          <Line data={vDataData} dataKey="v" name="V_Data" type="linear" stroke="#000000" strokeWidth={2} dot={false} activeDot={false} isAnimationActive={false} />
          <Line data={vDdfData} dataKey="v" name="V_DDF" type="linear" stroke="#ff0000" strokeWidth={2} dot={false} activeDot={false} isAnimationActive={false} />
        </LineChart>
      </div>

      <svg
        width={1434}
        height={2560}
        style={{ position: "absolute", left: 0, top: 0, pointerEvents: "none" }}
        fontFamily={FONT}
      >
        {/* upper panel title */}
        <text x={778} y={42} textAnchor="middle" fontSize={40} textLength={892} lengthAdjust="spacingAndGlyphs" xmlSpace="preserve">
          <tspan>I</tspan>
          <tspan fontSize={27} dy={11}>stim</tspan>
          <tspan dy={-11}>(t)  (nA) Forecast Window, Epoch 25</tspan>
        </text>
        {/* upper panel y title */}
        <text
          x={56}
          y={580}
          transform="rotate(-90 56 580)"
          textAnchor="middle"
          fontSize={56}
          fontWeight="bold"
          textLength={634}
          lengthAdjust="spacingAndGlyphs"
          xmlSpace="preserve"
        >
          <tspan>I</tspan>
          <tspan fontSize={37} dy={13}>stim</tspan>
          <tspan dy={-13}>(t)  (nA)  Epoch 25</tspan>
        </text>
        {/* upper panel x title */}
        <text x={778} y={1222} textAnchor="middle" fontSize={60} fontWeight="bold" textLength={313} lengthAdjust="spacingAndGlyphs" xmlSpace="preserve">
          Time   (ms)
        </text>

        {/* lower panel title */}
        <text x={775} y={1375} textAnchor="middle" fontSize={46} textLength={846} lengthAdjust="spacingAndGlyphs" xmlSpace="preserve">
          Data , DDF Forecast   Epoch 25 to 25
        </text>
        {/* lower panel y title */}
        <text
          x={58}
          y={1908}
          transform="rotate(-90 58 1908)"
          textAnchor="middle"
          fontSize={56}
          fontWeight="bold"
          textLength={867}
          lengthAdjust="spacingAndGlyphs"
          xmlSpace="preserve"
        >
          V(t)  (mV); Data, DDF Forecast
        </text>
        {/* lower panel x title */}
        <text x={778} y={2547} textAnchor="middle" fontSize={60} fontWeight="bold" textLength={439} lengthAdjust="spacingAndGlyphs" xmlSpace="preserve">
          Time Step  (ms)
        </text>

        {/* legend */}
        <line x1={296} x2={411} y1={1474} y2={1474} stroke="#000" strokeWidth={2} />
        <text x={452} y={1494} fontSize={48} textLength={153} lengthAdjust="spacingAndGlyphs">
          <tspan>V</tspan>
          <tspan fontSize={32} dy={10}>Data</tspan>
          <tspan dy={-10}>(t)</tspan>
        </text>
        <text x={667} y={1494} fontSize={48} textLength={105} lengthAdjust="spacingAndGlyphs">
          (mV)
        </text>
        <line x1={815} x2={928} y1={1474} y2={1474} stroke="#ff0000" strokeWidth={2} />
        <text x={972} y={1494} fontSize={48} textLength={150} lengthAdjust="spacingAndGlyphs">
          <tspan>V</tspan>
          <tspan fontSize={32} dy={10}>DDF</tspan>
          <tspan dy={-10}>(t)</tspan>
        </text>
        <text x={1197} y={1494} fontSize={48} textLength={105} lengthAdjust="spacingAndGlyphs">
          (mV)
        </text>
      </svg>
    </div>
  );
}
